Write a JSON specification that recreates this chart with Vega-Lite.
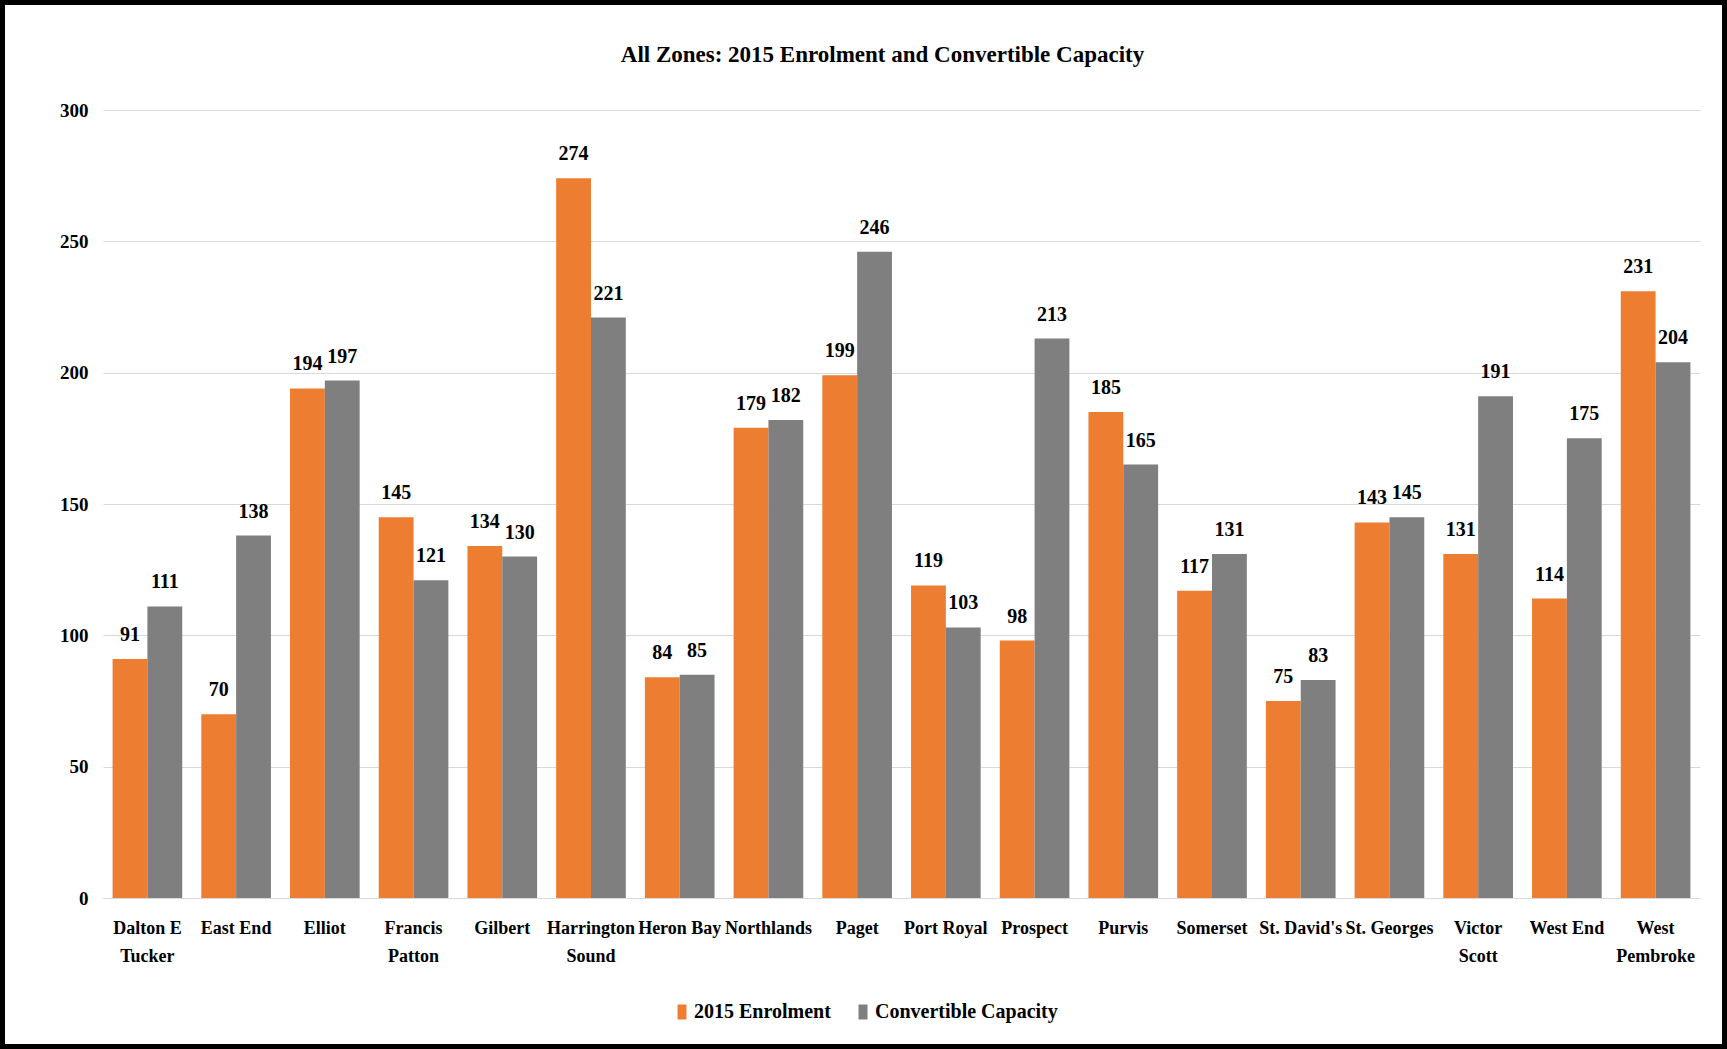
{
  "$schema": "https://vega.github.io/schema/vega-lite/v6.json",
  "width": 1727,
  "height": 1049,
  "autosize": {"type": "none"},
  "padding": 0,
  "background": "white",
  "title": {
    "text": "All Zones: 2015 Enrolment and Convertible Capacity",
    "font": "Liberation Serif",
    "fontSize": 23,
    "fontWeight": "bold",
    "color": "#000000",
    "anchor": "middle",
    "offset": -67,
    "dx": 19
  },
  "data": {
    "values": [
      {"school": "Dalton E Tucker", "series": "2015 Enrolment", "value": 91},
      {"school": "Dalton E Tucker", "series": "Convertible Capacity", "value": 111},
      {"school": "East End", "series": "2015 Enrolment", "value": 70},
      {"school": "East End", "series": "Convertible Capacity", "value": 138},
      {"school": "Elliot", "series": "2015 Enrolment", "value": 194},
      {"school": "Elliot", "series": "Convertible Capacity", "value": 197},
      {"school": "Francis Patton", "series": "2015 Enrolment", "value": 145},
      {"school": "Francis Patton", "series": "Convertible Capacity", "value": 121},
      {"school": "Gilbert", "series": "2015 Enrolment", "value": 134},
      {"school": "Gilbert", "series": "Convertible Capacity", "value": 130},
      {"school": "Harrington Sound", "series": "2015 Enrolment", "value": 274},
      {"school": "Harrington Sound", "series": "Convertible Capacity", "value": 221},
      {"school": "Heron Bay", "series": "2015 Enrolment", "value": 84},
      {"school": "Heron Bay", "series": "Convertible Capacity", "value": 85},
      {"school": "Northlands", "series": "2015 Enrolment", "value": 179},
      {"school": "Northlands", "series": "Convertible Capacity", "value": 182},
      {"school": "Paget", "series": "2015 Enrolment", "value": 199},
      {"school": "Paget", "series": "Convertible Capacity", "value": 246},
      {"school": "Port Royal", "series": "2015 Enrolment", "value": 119},
      {"school": "Port Royal", "series": "Convertible Capacity", "value": 103},
      {"school": "Prospect", "series": "2015 Enrolment", "value": 98},
      {"school": "Prospect", "series": "Convertible Capacity", "value": 213},
      {"school": "Purvis", "series": "2015 Enrolment", "value": 185},
      {"school": "Purvis", "series": "Convertible Capacity", "value": 165},
      {"school": "Somerset", "series": "2015 Enrolment", "value": 117},
      {"school": "Somerset", "series": "Convertible Capacity", "value": 131},
      {"school": "St. David's", "series": "2015 Enrolment", "value": 75},
      {"school": "St. David's", "series": "Convertible Capacity", "value": 83},
      {"school": "St. Georges", "series": "2015 Enrolment", "value": 143},
      {"school": "St. Georges", "series": "Convertible Capacity", "value": 145},
      {"school": "Victor Scott", "series": "2015 Enrolment", "value": 131},
      {"school": "Victor Scott", "series": "Convertible Capacity", "value": 191},
      {"school": "West End", "series": "2015 Enrolment", "value": 114},
      {"school": "West End", "series": "Convertible Capacity", "value": 175},
      {"school": "West Pembroke", "series": "2015 Enrolment", "value": 231},
      {"school": "West Pembroke", "series": "Convertible Capacity", "value": 204}
    ]
  },
  "encoding": {
    "x": {
      "field": "school",
      "type": "nominal",
      "sort": null,
      "title": null,
      "scale": {"range": [103, 1700], "paddingInner": 0.215, "paddingOuter": 0.108},
      "axis": {
        "offset": -151,
        "labelAngle": 0,
        "labelFont": "Liberation Serif",
        "labelFontSize": 18,
        "labelFontWeight": "bold",
        "labelColor": "#000000",
        "labelLineHeight": 28,
        "labelPadding": 21,
        "labelBaseline": "top",
        "labelLimit": 0,
        "ticks": false,
        "domainColor": "#d9d9d9",
        "domainWidth": 1,
        "grid": false,
        "labelExpr": "datum.value == 'Dalton E Tucker' ? ['Dalton E', 'Tucker'] : datum.value == 'Francis Patton' ? ['Francis', 'Patton'] : datum.value == 'Harrington Sound' ? ['Harrington', 'Sound'] : datum.value == 'Victor Scott' ? ['Victor', 'Scott'] : datum.value == 'West Pembroke' ? ['West', 'Pembroke'] : datum.value"
      }
    },
    "xOffset": {
      "field": "series",
      "type": "nominal",
      "scale": {"paddingInner": 0, "paddingOuter": 0}
    },
    "y": {
      "field": "value",
      "type": "quantitative",
      "title": null,
      "scale": {"domain": [0, 300], "range": [898, 110], "nice": false},
      "axis": {
        "values": [0, 50, 100, 150, 200, 250, 300],
        "offset": -88,
        "labelPadding": 0,
        "ticks": false,
        "domain": false,
        "labelFont": "Liberation Serif",
        "labelFontSize": 19,
        "labelFontWeight": "bold",
        "labelColor": "#000000",
        "gridColor": "#d9d9d9",
        "gridWidth": 1
      }
    }
  },
  "layer": [
    {
      "mark": {"type": "bar"},
      "encoding": {
        "color": {
          "field": "series",
          "type": "nominal",
          "title": null,
          "scale": {
            "domain": ["2015 Enrolment", "Convertible Capacity"],
            "range": ["#ed7d31", "#7f7f7f"]
          },
          "legend": {
            "orient": "none",
            "direction": "horizontal",
            "legendX": 672,
            "legendY": 1002,
            "labelFont": "Liberation Serif",
            "labelFontSize": 20,
            "labelFontWeight": "bold",
            "labelColor": "#000000",
            "labelLimit": 0,
            "labelOffset": 2,
            "columnPadding": 22,
            "symbolType": "M-0.6,-1H0.6V1H-0.6Z",
            "symbolSize": 225,
            "symbolStrokeWidth": 0
          }
        }
      }
    },
    {
      "mark": {
        "type": "text",
        "baseline": "middle",
        "dy": -24,
        "font": "Liberation Serif",
        "fontSize": 20,
        "fontWeight": "bold",
        "color": "#000000"
      },
      "encoding": {
        "text": {"field": "value", "type": "quantitative"}
      }
    }
  ],
  "config": {
    "view": {"stroke": "#000000", "strokeWidth": 10}
  }
}
